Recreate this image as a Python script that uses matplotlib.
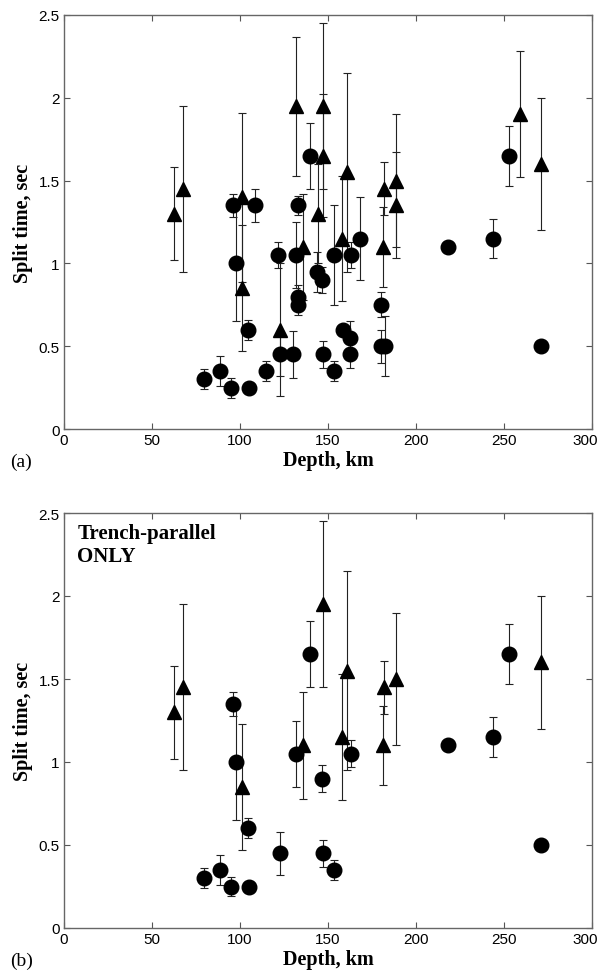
import matplotlib
matplotlib.use("Agg")
import matplotlib.pyplot as plt
from matplotlib.ticker import FormatStrFormatter
from matplotlib.transforms import ScaledTranslation
import numpy as np

# circles: depth (km), split time (s), error (s), trench-parallel flag
circ_depth = [79.5, 88.5, 95, 96, 97.5, 104.5, 105, 108.5, 114.5, 121.5,
              123, 130, 132, 133, 133, 133, 140, 144, 146.5, 147,
              153.5, 153.5, 158.5, 162.5, 162.5, 163, 168, 180, 180, 182.5,
              218, 244, 253, 271]
circ_split = [0.30, 0.35, 0.25, 1.35, 1.00, 0.60, 0.25, 1.35, 0.35, 1.05,
              0.45, 0.45, 1.05, 1.35, 0.80, 0.75, 1.65, 0.95, 0.90, 0.45,
              1.05, 0.35, 0.60, 0.55, 0.45, 1.05, 1.15, 0.75, 0.50, 0.50,
              1.10, 1.15, 1.65, 0.50]
circ_err = [0.06, 0.09, 0.06, 0.07, 0.35, 0.06, 0.02, 0.10, 0.06, 0.08,
            0.13, 0.14, 0.20, 0.06, 0.07, 0.06, 0.20, 0.12, 0.08, 0.08,
            0.30, 0.06, 0.03, 0.10, 0.08, 0.08, 0.25, 0.075, 0.10, 0.18,
            0.03, 0.12, 0.18, 0.03]
circ_tp = [1, 1, 1, 1, 1, 1, 1, 0, 0, 0,
           1, 0, 1, 0, 0, 0, 1, 0, 1, 1,
           0, 1, 0, 0, 0, 1, 0, 0, 0, 0,
           1, 1, 1, 1]

# triangles
tri_depth = [62.5, 67.5, 101, 101, 123, 132, 136, 144.5, 147, 147,
             158, 161, 181, 182, 188.5, 188.5, 259, 271]
tri_split = [1.30, 1.45, 1.40, 0.85, 0.60, 1.95, 1.10, 1.30, 1.95, 1.65,
             1.15, 1.55, 1.10, 1.45, 1.50, 1.35, 1.90, 1.60]
tri_err = [0.28, 0.50, 0.51, 0.38, 0.40, 0.42, 0.32, 0.30, 0.50, 0.37,
           0.38, 0.60, 0.24, 0.16, 0.40, 0.32, 0.38, 0.40]
tri_tp = [1, 1, 0, 1, 0, 0, 1, 0, 1, 0,
          1, 1, 1, 1, 1, 0, 0, 1]

xticks = [0, 50, 100, 150, 200, 250, 300]
yticks = [0, 0.5, 1, 1.5, 2, 2.5]

SERIF = ['Liberation Serif', 'DejaVu Serif']
SANS = ['Liberation Sans', 'DejaVu Sans']


def draw_panel(fig, ax, only_tp):
    cd, cs, ce = np.array(circ_depth), np.array(circ_split), np.array(circ_err)
    td, ts, te = np.array(tri_depth), np.array(tri_split), np.array(tri_err)
    if only_tp:
        cm = np.array(circ_tp) == 1
        tm = np.array(tri_tp) == 1
        cd, cs, ce = cd[cm], cs[cm], ce[cm]
        td, ts, te = td[tm], ts[tm], te[tm]

    ax.errorbar(cd, cs, yerr=ce, fmt='none', ecolor='#222222', elinewidth=0.8,
                capsize=2.6, capthick=0.8, zorder=2)
    ax.errorbar(td, ts, yerr=te, fmt='none', ecolor='#222222', elinewidth=0.8,
                capsize=2.6, capthick=0.8, zorder=2)
    ax.plot(cd, cs, 'o', color='black', markersize=10.5, zorder=3)
    ax.plot(td, ts, '^', color='black', markersize=10.5, zorder=3)

    ax.set_xlim(0, 300)
    ax.set_ylim(0, 2.5)
    ax.set_xticks(xticks)
    ax.set_yticks(yticks)
    ax.yaxis.set_major_formatter(FormatStrFormatter('%g'))
    ax.tick_params(direction='in', top=True, right=True, length=4,
                   width=0.8, color='#555555', labelsize=11, pad=3)
    for lab in ax.get_xticklabels() + ax.get_yticklabels():
        lab.set_family(SANS)
    # keep the last x label inside the figure
    last = ax.get_xticklabels()[-1]
    last.set_transform(last.get_transform() + ScaledTranslation(-7 / 100, 0, fig.dpi_scale_trans))
    for sp in ax.spines.values():
        sp.set_color('#666666')
        sp.set_linewidth(1.0)
    ax.set_xlabel('Depth, km', fontsize=14.5, fontweight='bold', family=SERIF, labelpad=2)
    ax.set_ylabel('Split time, sec', fontsize=14.5, fontweight='bold', family=SERIF, labelpad=4)


fig = plt.figure(figsize=(5.98, 9.78), dpi=100)
ax1 = fig.add_axes([64 / 598, 1 - 430 / 978, 528 / 598, 414 / 978])
ax2 = fig.add_axes([64 / 598, 1 - 929 / 978, 528 / 598, 415 / 978])

draw_panel(fig, ax1, False)
draw_panel(fig, ax2, True)

ax2.text(0.025, 0.975, 'Trench-parallel\nONLY', transform=ax2.transAxes,
         ha='left', va='top', fontsize=15, fontweight='bold', family=SERIF,
         linespacing=1.15)

fig.text(10 / 598, 1 - 462 / 978, '(a)', fontsize=14, family=SERIF, va='center')
fig.text(10 / 598, 1 - 961 / 978, '(b)', fontsize=14, family=SERIF, va='center')

fig.savefig('out.png', dpi=100)
